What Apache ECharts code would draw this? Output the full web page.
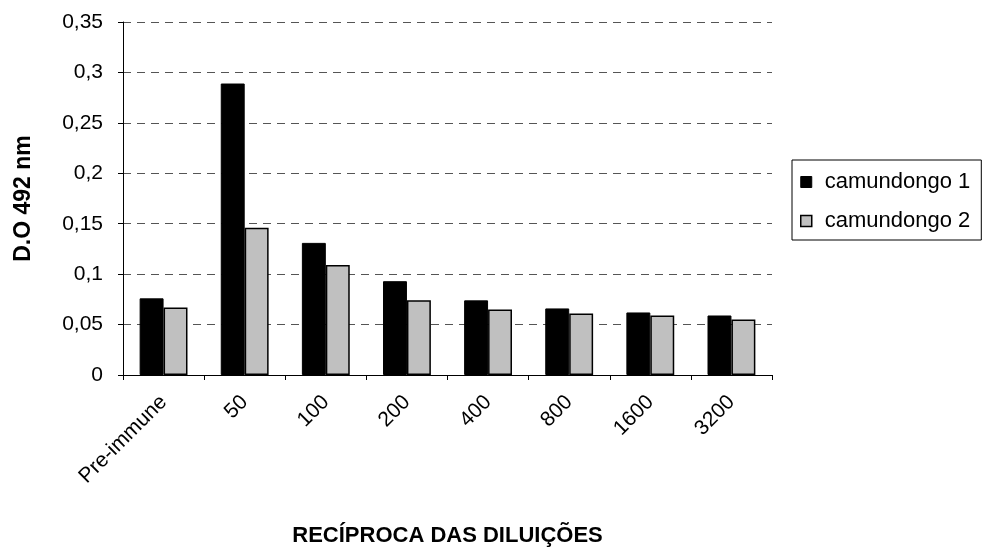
<!DOCTYPE html>
<html>
<head>
<meta charset="utf-8">
<script src="https://cdn.jsdelivr.net/npm/echarts@6/dist/echarts.min.js"></script>
<style>html,body{margin:0;padding:0;background:#fff}#c{width:983px;height:552px}</style>
</head>
<body>
<div id="c"></div>
<script>
const categories = ['Pre-immune', '50', '100', '200', '400', '800', '1600', '3200'];
const camundongo1 = [0.076, 0.289, 0.131, 0.093, 0.074, 0.066, 0.062, 0.059];
const camundongo2 = [0.067, 0.146, 0.109, 0.074, 0.065, 0.061, 0.059, 0.055];
const yTicks = [0, 0.05, 0.1, 0.15, 0.2, 0.25, 0.3, 0.35];

const chart = echarts.init(document.getElementById('c'));
const font = 'Arial, "Liberation Sans", sans-serif';
chart.setOption({
  animation: false,
  backgroundColor: '#fff',
  grid: { left: 123, top: 22, right: 211, bottom: 173, containLabel: false },
  legend: {
    orient: 'vertical',
    left: 792, top: 160,
    padding: [11, 11, 8, 8],
    itemGap: 17,
    itemWidth: 11, itemHeight: 11,
    borderColor: '#000', borderWidth: 1,
    textStyle: { fontFamily: font, fontSize: 22, color: '#000', padding: [0, 0, 0, 8] },
    data: [
      { name: 'camundongo 1', icon: 'rect', itemStyle: { borderColor: '#000', borderWidth: 1 } },
      { name: 'camundongo 2', icon: 'rect', itemStyle: { borderColor: '#000', borderWidth: 1.5 } }
    ]
  },
  xAxis: {
    type: 'category',
    data: categories,
    name: 'RECÍPROCA DAS DILUIÇÕES',
    nameLocation: 'middle',
    nameGap: 150,
    nameTextStyle: { fontFamily: font, fontSize: 22, fontWeight: 'bold', color: '#000' },
    axisLine: { lineStyle: { color: '#000', width: 1 } },
    axisTick: { show: true, alignWithLabel: false, length: 5, lineStyle: { color: '#000' } },
    axisLabel: { rotate: 45, margin: 24, fontFamily: font, fontSize: 21, color: '#000', interval: 0 },
    splitLine: { show: false }
  },
  yAxis: {
    type: 'value',
    min: 0, max: 0.35, interval: 0.05,
    name: 'D.O 492 nm',
    nameLocation: 'middle',
    nameGap: 88,
    nameTextStyle: { fontFamily: font, fontSize: 23, fontWeight: 'bold', color: '#000' },
    axisLine: { show: true, lineStyle: { color: '#000', width: 1 } },
    axisTick: { show: true, inside: false, length: 5, lineStyle: { color: '#000' } },
    axisLabel: {
      margin: 20, fontFamily: font, fontSize: 21, color: '#000',
      formatter: v => {
        const t = yTicks.find(x => Math.abs(x - v) < 1e-9);
        return String(t === undefined ? v : t).replace('.', ',');
      }
    },
    splitLine: { show: true, lineStyle: { color: '#555', type: [8, 6], width: 1 } }
  },
  series: [
    {
      name: 'camundongo 1', type: 'bar', data: camundongo1,
      barGap: '0%', barCategoryGap: '41%',
      itemStyle: { color: '#000', borderColor: '#000', borderWidth: 1 }
    },
    {
      name: 'camundongo 2', type: 'bar', data: camundongo2,
      itemStyle: { color: '#c0c0c0', borderColor: '#000', borderWidth: 1.5 }
    }
  ]
});
</script>
</body>
</html>
